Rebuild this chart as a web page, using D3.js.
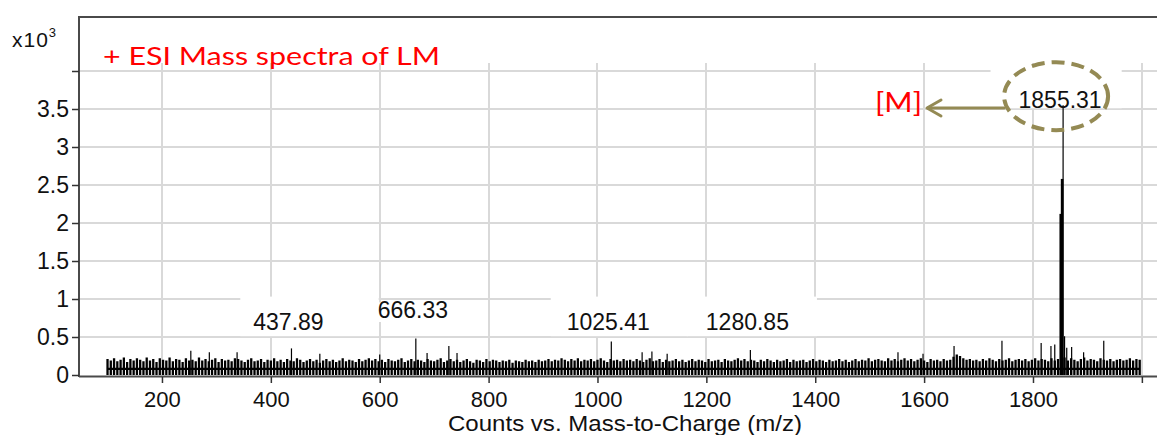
<!DOCTYPE html>
<html>
<head>
<meta charset="utf-8">
<script src="https://cdn.jsdelivr.net/npm/d3@7"></script>
<style>
  html, body { margin: 0; padding: 0; background: #fff; }
  svg { display: block; }
</style>
</head>
<body>
<svg id="chart" width="1157" height="435"></svg>
<script>
// ---- spectrum data (intensity in units of 10^3 counts) ----
// background profile, sampled on a 6 m/z grid starting at m/z 100
const noiseStart = 100;
const noiseStep = 6;
const noiseHeights = [
  0.21,0.19,0.22,0.18,0.20,0.23,0.17,0.21,0.19,0.22,0.20,0.18,0.23,0.19,0.21,0.17,0.22,0.20,0.19,0.23,
  0.18,0.21,0.20,0.17,0.22,0.19,0.20,0.18,0.23,0.19,0.21,0.18,0.20,0.22,0.17,0.21,0.19,0.20,0.18,0.22,
  0.21,0.19,0.17,0.20,0.22,0.18,0.19,0.21,0.17,0.20,0.19,0.22,0.18,0.20,0.17,0.21,0.19,0.18,0.22,0.20,
  0.17,0.19,0.21,0.18,0.20,0.16,0.19,0.21,0.18,0.20,0.17,0.19,0.22,0.18,0.20,0.19,0.17,0.21,0.18,0.20,
  0.22,0.19,0.21,0.18,0.20,0.17,0.21,0.19,0.18,0.20,0.22,0.17,0.19,0.21,0.18,0.20,0.19,0.17,0.21,0.19,
  0.18,0.20,0.22,0.17,0.19,0.21,0.18,0.20,0.17,0.19,0.21,0.18,0.16,0.20,0.19,0.17,0.21,0.18,0.20,0.19,
  0.17,0.19,0.18,0.20,0.16,0.19,0.18,0.17,0.20,0.18,0.19,0.17,0.20,0.18,0.19,0.21,0.18,0.20,0.19,0.22,
  0.20,0.18,0.21,0.19,0.22,0.18,0.20,0.19,0.21,0.18,0.20,0.22,0.19,0.17,0.21,0.19,0.20,0.18,0.21,0.19,
  0.20,0.18,0.21,0.19,0.17,0.20,0.22,0.18,0.19,0.21,0.17,0.20,0.18,0.19,0.21,0.18,0.20,0.17,0.19,0.21,
  0.18,0.20,0.19,0.17,0.21,0.18,0.19,0.20,0.17,0.21,0.19,0.18,0.20,0.22,0.19,0.21,0.18,0.20,0.19,0.17,
  0.20,0.18,0.21,0.19,0.17,0.20,0.18,0.19,0.21,0.17,0.20,0.18,0.19,0.20,0.17,0.19,0.21,0.18,0.20,0.19,
  0.17,0.20,0.18,0.19,0.21,0.18,0.20,0.17,0.19,0.21,0.18,0.20,0.19,0.22,0.18,0.20,0.21,0.19,0.18,0.22,
  0.19,0.21,0.18,0.20,0.22,0.19,0.21,0.18,0.20,0.22,0.19,0.17,0.21,0.19,0.20,0.18,0.21,0.19,0.20,0.24,
  0.27,0.25,0.22,0.20,0.21,0.19,0.20,0.18,0.21,0.19,0.22,0.20,0.18,0.21,0.19,0.20,0.22,0.18,0.20,0.21,
  0.19,0.21,0.18,0.20,0.22,0.19,0.21,0.20,0.18,0.22,0.19,0.21,0.20,0.23,0.19,0.22,0.20,0.18,0.21,0.23,
  0.19,0.21,0.20,0.18,0.22,0.20,0.19,0.21,0.18,0.20,0.21,0.19,0.20,0.22,0.19,0.21,0.20
];

// individual peaks standing above the background
const peakMz      = [253, 287, 338, 437.89, 490, 600, 666.33, 687, 727, 742, 1025.41, 1082, 1100, 1128, 1280.85,
                     1552, 1598, 1655, 1743, 1815, 1833, 1840, 1851, 1853.5, 1855.31, 1858, 1862, 1871, 1893, 1930];
const peakHeights = [0.32, 0.30, 0.30, 0.35, 0.28, 0.27, 0.48, 0.29, 0.38, 0.29, 0.44, 0.30, 0.31, 0.28, 0.33,
                     0.30, 0.28, 0.38, 0.45, 0.42, 0.38, 0.40, 2.12, 2.58, 3.55, 0.51, 0.36, 0.37, 0.30, 0.45];

// annotated peaks
const labelMz     = [437.89, 666.33, 1025.41, 1280.85, 1855.31];
const labelLevels = [0.59, 0.75, 0.59, 0.59, 3.51];

// axes
const xTickValues = [200, 400, 600, 800, 1000, 1200, 1400, 1600, 1800, 2000];
const xTickLabels = ["200", "400", "600", "800", "1000", "1200", "1400", "1600", "1800", ""];
const yTickValues = [0, 0.5, 1, 1.5, 2, 2.5, 3, 3.5, 4];
const yTickLabels = ["0", "0.5", "1", "1.5", "2", "2.5", "3", "3.5", ""];

const titleText  = "+ ESI Mass spectra of LM";
const xAxisTitle = "Counts vs. Mass-to-Charge (m/z)";
const molecularIonText = "[M]";

// ---- layout ----
const plotLeft = 79, plotRight = 1157, plotTop = 17, plotBottom = 375;
const gridTop = 63;
const sansFont = "'Liberation Sans', Arial, sans-serif";
const titleFont = "Lato, 'Open Sans', sans-serif";
const olive = "#948A54";
const gridColor = "#d9d9d9";

const svg = d3.select("#chart");

const x = d3.scaleLinear().domain([47.6, 2027.8]).range([plotLeft, plotRight]);
const y = d3.scaleLinear().domain([0, 4.7105]).range([plotBottom, plotTop]);

// grid
const grid = svg.append("g").attr("stroke", gridColor).attr("stroke-width", 2);
grid.selectAll(".vgrid").data(xTickValues).join("line").attr("class", "vgrid")
  .attr("x1", d => Math.round(x(d))).attr("x2", d => Math.round(x(d)))
  .attr("y1", gridTop).attr("y2", plotBottom);
grid.selectAll(".hgrid").data(yTickValues.filter(d => d > 0)).join("line").attr("class", "hgrid")
  .attr("x1", plotLeft).attr("x2", plotRight)
  .attr("y1", d => Math.round(y(d))).attr("y2", d => Math.round(y(d)));

// label backgrounds knock out the grid behind the annotations
// [left pad, right pad, top pad, bottom pad] around each label's glyphs
const labelPads = [
  [13, 55, 17, 6],
  [8, 24, -1, 4],
  [16, 38, 17, 6],
  [19, 28, 17, 6],
  [28, 20, 27, 0]
];
const labelFontSize = 23;
const labelBg = svg.append("g");
const labelText = svg.append("g")
  .attr("font-family", sansFont).attr("font-size", labelFontSize).attr("fill", "#111")
  .attr("text-anchor", "middle");

const labelNodes = labelMz.map((mz, i) => labelText.append("text")
  .attr("x", x(mz) - 3)
  .attr("y", y(labelLevels[i]))
  .text(mz.toFixed(2)));

labelNodes.forEach((t, i) => {
  const b = t.node().getBBox();
  const p = labelPads[i];
  const base = y(labelLevels[i]);
  const capTop = base - labelFontSize * 0.72;
  labelBg.append("rect")
    .attr("x", b.x - p[0]).attr("y", capTop - p[2])
    .attr("width", b.width + p[0] + p[1]).attr("height", base - capTop + p[2] + p[3])
    .attr("fill", "#fff");
});

// spectrum: background profile
const noisePath = d3.path();
const valley = 0.08;
noiseHeights.forEach((h, i) => {
  const px = x(noiseStart + i * noiseStep);
  if (i === 0) noisePath.moveTo(px, y(valley)); else noisePath.lineTo(px, y(valley));
  noisePath.lineTo(px, y(h));
  noisePath.lineTo(px, y(0));
  noisePath.lineTo(px, y(valley));
});
const marks = svg.append("g");
marks.append("path")
  .attr("d", noisePath.toString())
  .attr("fill", "none").attr("stroke", "#000").attr("stroke-width", 2.3);

// spectrum: peaks
marks.selectAll(".peak").data(peakMz.map((m, i) => ({ m, h: peakHeights[i] })))
  .join("line").attr("class", "peak")
  .attr("x1", d => x(d.m)).attr("x2", d => x(d.m))
  .attr("y1", y(0)).attr("y2", d => y(d.h))
  .attr("stroke", "#000")
  .attr("stroke-width", d => (d.h > 1 && d.h < 3) ? 2.6 : 1.2);

// peak labels sit above the marks
labelText.raise();

// frame
const frame = svg.append("g").attr("stroke", "#4a4a4a").attr("stroke-width", 2).attr("fill", "none");
frame.append("line").attr("x1", plotLeft).attr("x2", plotLeft).attr("y1", plotTop).attr("y2", plotBottom + 2);
frame.append("line").attr("x1", plotLeft - 1).attr("x2", plotRight).attr("y1", plotTop).attr("y2", plotTop);
frame.append("line").attr("x1", plotLeft).attr("x2", plotRight).attr("y1", plotBottom + 1.5).attr("y2", plotBottom + 1.5);

// y axis
const yAxis = svg.append("g")
  .attr("transform", `translate(${plotLeft},0)`)
  .call(d3.axisLeft(y).tickValues(yTickValues).tickSize(7).tickPadding(3)
    .tickFormat((d, i) => yTickLabels[i]));
yAxis.select(".domain").remove();
yAxis.selectAll(".tick line").attr("stroke", "#333").attr("stroke-width", 1.5);
yAxis.selectAll(".tick text").attr("font-family", sansFont).attr("font-size", 23).attr("fill", "#111");

// x axis
const xAxis = svg.append("g")
  .attr("transform", `translate(0,${plotBottom + 2})`)
  .call(d3.axisBottom(x).tickValues(xTickValues).tickSize(6).tickPadding(8)
    .tickFormat((d, i) => xTickLabels[i]));
xAxis.select(".domain").remove();
xAxis.selectAll(".tick line").attr("stroke", "#333").attr("stroke-width", 1.5);
xAxis.selectAll(".tick text").attr("font-family", sansFont).attr("font-size", 22).attr("fill", "#111");

svg.append("text")
  .attr("x", 625).attr("y", 431)
  .attr("text-anchor", "middle")
  .attr("font-family", sansFont).attr("font-size", 22).attr("fill", "#111")
  .attr("textLength", 354).attr("lengthAdjust", "spacingAndGlyphs")
  .text(xAxisTitle);

// y scale multiplier
const mult = svg.append("text")
  .attr("x", 12).attr("y", 47)
  .attr("font-family", sansFont).attr("font-size", 21).attr("fill", "#111")
  .attr("letter-spacing", 1);
mult.append("tspan").text("x10");
mult.append("tspan").attr("font-size", 13).attr("dy", -10).text("3");

// title
svg.append("text")
  .attr("x", 103).attr("y", 65)
  .attr("font-family", titleFont).attr("font-size", 25).attr("fill", "#ff0000")
  .attr("textLength", 337).attr("lengthAdjust", "spacingAndGlyphs")
  .text(titleText);

// molecular ion callout
const ib = labelNodes[4].node().getBBox();
const ecx = ib.x + ib.width / 2 - 4;
const ecy = y(labelLevels[4]) - 12;
const erx = 52, ery = 34;
svg.append("ellipse")
  .attr("cx", ecx).attr("cy", ecy).attr("rx", erx).attr("ry", ery)
  .attr("fill", "none").attr("stroke", olive).attr("stroke-width", 4)
  .attr("stroke-dasharray", "13 7");

const arrowY = y(3.5) - 1;
const tipX = 927;
const arrow = svg.append("g").attr("stroke", olive).attr("stroke-width", 3).attr("fill", "none")
  .attr("stroke-linecap", "round");
arrow.append("line").attr("x1", ecx - erx).attr("x2", tipX + 1).attr("y1", arrowY).attr("y2", arrowY);
arrow.append("path").attr("d", `M${tipX + 14},${arrowY - 8} L${tipX},${arrowY} L${tipX + 14},${arrowY + 8}`)
  .attr("stroke-linejoin", "round");

svg.append("text")
  .attr("x", 875).attr("y", 112)
  .attr("font-family", titleFont).attr("font-size", 27).attr("fill", "#ff0000")
  .attr("textLength", 47).attr("lengthAdjust", "spacingAndGlyphs")
  .text(molecularIonText);
</script>
</body>
</html>
